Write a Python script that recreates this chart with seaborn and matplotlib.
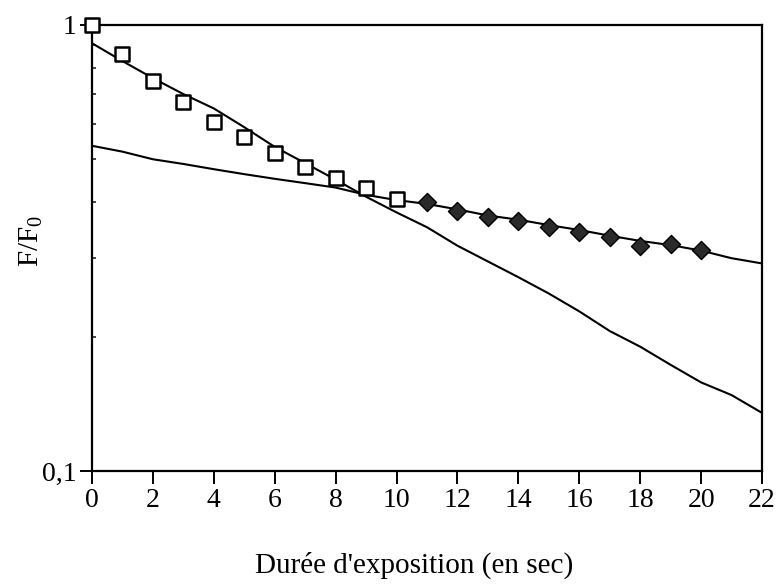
import numpy as np
import pandas as pd
import matplotlib
matplotlib.use("Agg")
import matplotlib.pyplot as plt
import seaborn as sns
from matplotlib.ticker import FixedLocator, FixedFormatter, NullFormatter

# ---- data ----
t_squares = [0, 1, 2, 3, 4, 5, 6, 7, 8, 9, 10]
f_squares = [1.0, 0.861, 0.749, 0.673, 0.607, 0.562, 0.516, 0.481, 0.455, 0.430, 0.407]

t_diamonds = [11, 12, 13, 14, 15, 16, 17, 18, 19, 20]
f_diamonds = [0.400, 0.383, 0.372, 0.363, 0.353, 0.344, 0.334, 0.320, 0.322, 0.313]

t_line = [0, 1, 2, 3, 4, 5, 6, 7, 8, 9, 10, 11, 12, 13, 14, 15, 16, 17, 18, 19, 20, 21, 22]
f_steep = [0.910, 0.830, 0.760, 0.700, 0.650, 0.590, 0.533, 0.490, 0.450, 0.412, 0.380,
           0.352, 0.320, 0.295, 0.272, 0.250, 0.228, 0.206, 0.190, 0.173, 0.158, 0.148, 0.135]
f_shallow = [0.536, 0.520, 0.500, 0.488, 0.475, 0.463, 0.452, 0.442, 0.432, 0.416, 0.405,
             0.397, 0.386, 0.374, 0.366, 0.356, 0.347, 0.337, 0.328, 0.321, 0.312, 0.300, 0.292]

x_ticks = [0, 2, 4, 6, 8, 10, 12, 14, 16, 18, 20, 22]
y_ticks = [0.1, 1]
y_tick_labels = ["0,1", "1"]
x_label = "Durée d'exposition (en sec)"
y_label = r"F/F$_\mathrm{0}$"

# ---- style ----
sns.set_theme(style="ticks")
plt.rcParams["font.family"] = ["Liberation Serif", "DejaVu Serif"]
plt.rcParams["mathtext.fontset"] = "custom"
plt.rcParams["mathtext.rm"] = "Liberation Serif"
plt.rcParams["mathtext.it"] = "Liberation Serif:italic"

fig = plt.figure(figsize=(7.82, 5.85), dpi=100)
ax = fig.add_axes([92 / 782, 1 - 471 / 585, 670 / 782, 446 / 585])

df_lines = pd.DataFrame({"t": t_line * 2,
                         "f": f_steep + f_shallow,
                         "curve": ["steep"] * len(t_line) + ["shallow"] * len(t_line)})
sns.lineplot(data=df_lines, x="t", y="f", units="curve", estimator=None,
             color="black", linewidth=1.5, ax=ax, legend=False)

sns.scatterplot(x=t_squares, y=f_squares, marker="s", s=110, facecolor="white",
                edgecolor="black", linewidth=1.8, ax=ax, zorder=5, clip_on=False)
sns.scatterplot(x=t_diamonds, y=f_diamonds, marker="D", s=85, color="#2a2a2a",
                edgecolor="black", linewidth=1.0, ax=ax, zorder=5)

ax.set_yscale("log")
ax.set_xlim(0, 22)
ax.set_ylim(0.1, 1)

ax.xaxis.set_major_locator(FixedLocator(x_ticks))
ax.set_xticklabels([str(v) for v in x_ticks])
ax.yaxis.set_major_locator(FixedLocator(y_ticks))
ax.yaxis.set_major_formatter(FixedFormatter(y_tick_labels))
ax.yaxis.set_minor_locator(FixedLocator([0.2, 0.3, 0.4, 0.5, 0.6, 0.7, 0.8, 0.9]))
ax.yaxis.set_minor_formatter(NullFormatter())

ax.tick_params(axis="x", which="major", direction="out", length=9, width=1.4,
               labelsize=20, pad=3, colors="black")
ax.tick_params(axis="y", which="major", direction="out", length=9, width=1.4,
               labelsize=20, pad=2, colors="black")
ax.tick_params(axis="y", which="minor", direction="in", length=3, width=1.2)

for side in ["top", "right", "bottom", "left"]:
    ax.spines[side].set_visible(True)
    ax.spines[side].set_color("black")
    ax.spines[side].set_linewidth(1.6)

ax.set_xlabel(x_label, fontsize=21, color="black")
ax.xaxis.set_label_coords((414 - 92) / 670, (471 - 552) / 446)
ax.set_ylabel(y_label, fontsize=21, color="black")
ax.yaxis.set_label_coords((45 - 92) / 670, (471 - 241) / 446)

fig.savefig("out.png", dpi=100, facecolor="white")
